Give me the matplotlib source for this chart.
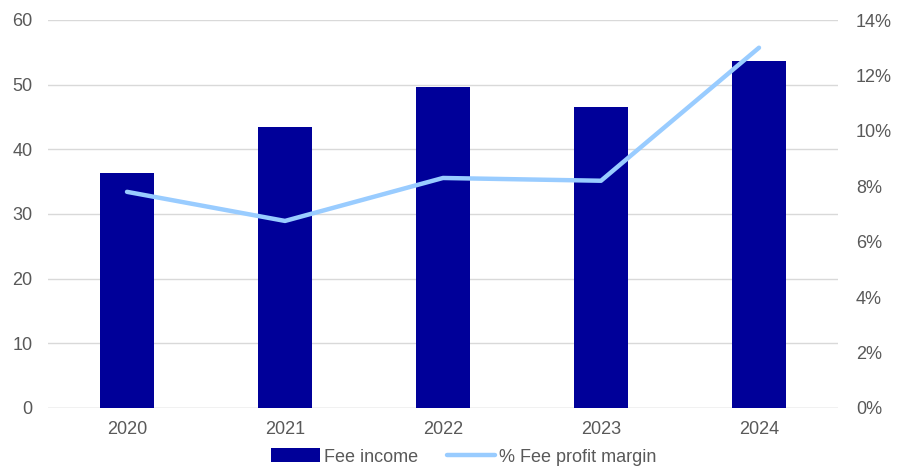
import matplotlib
matplotlib.use("Agg")
import matplotlib.pyplot as plt
from matplotlib.ticker import FuncFormatter

plt.rcParams['font.family'] = ['Liberation Sans', 'DejaVu Sans']

years = ["2020", "2021", "2022", "2023", "2024"]
fee_income = [36.3, 43.4, 49.6, 46.5, 53.6]
fee_margin_pct = [7.8, 6.75, 8.3, 8.2, 13.0]

bar_color = "#000099"
line_color = "#99CCFF"
text_color = "#595959"
grid_color = "#D9D9D9"

fig = plt.figure(figsize=(9.04, 4.68), dpi=100)
ax = fig.add_axes([48 / 904, 1 - 408 / 468, 790 / 904, 388 / 468])
ax2 = ax.twinx()

x = list(range(len(years)))
bars = ax.bar(x, fee_income, width=0.34, color=bar_color, label="Fee income", zorder=2)
line, = ax2.plot(x, fee_margin_pct, color=line_color, lw=3.2, solid_capstyle="round",
                 label="% Fee profit margin", zorder=3)

ax.set_xlim(-0.5, len(years) - 0.5)
ax.set_ylim(0, 60)
ax.set_yticks(range(0, 61, 10))
ax2.set_ylim(0, 14)
ax2.set_yticks(range(0, 15, 2))
ax2.yaxis.set_major_formatter(FuncFormatter(lambda v, p: f"{int(v)}%"))

ax.set_xticks(x)
ax.set_xticklabels(years)
ax.yaxis.grid(True, color=grid_color, lw=1)
ax.set_axisbelow(True)

for a in (ax, ax2):
    for s in a.spines.values():
        s.set_visible(False)
    a.tick_params(length=0, labelsize=13, colors=text_color)
ax.tick_params(axis="y", pad=11)
ax.tick_params(axis="x", pad=9)
ax2.tick_params(axis="y", pad=13)
ax.axhline(0, color=grid_color, lw=1, zorder=1)

ax2.set_zorder(ax.get_zorder() + 1)
ax2.patch.set_visible(False)

fig.legend([bars, line], ["Fee income", "% Fee profit margin"],
           loc="center", bbox_to_anchor=(0.513, 11 / 468), ncol=2, frameon=False,
           fontsize=13, labelcolor=text_color, handlelength=2.7, handleheight=0.8,
           handletextpad=0.2, columnspacing=1.6, borderpad=0)

fig.savefig("out.png", dpi=100)
